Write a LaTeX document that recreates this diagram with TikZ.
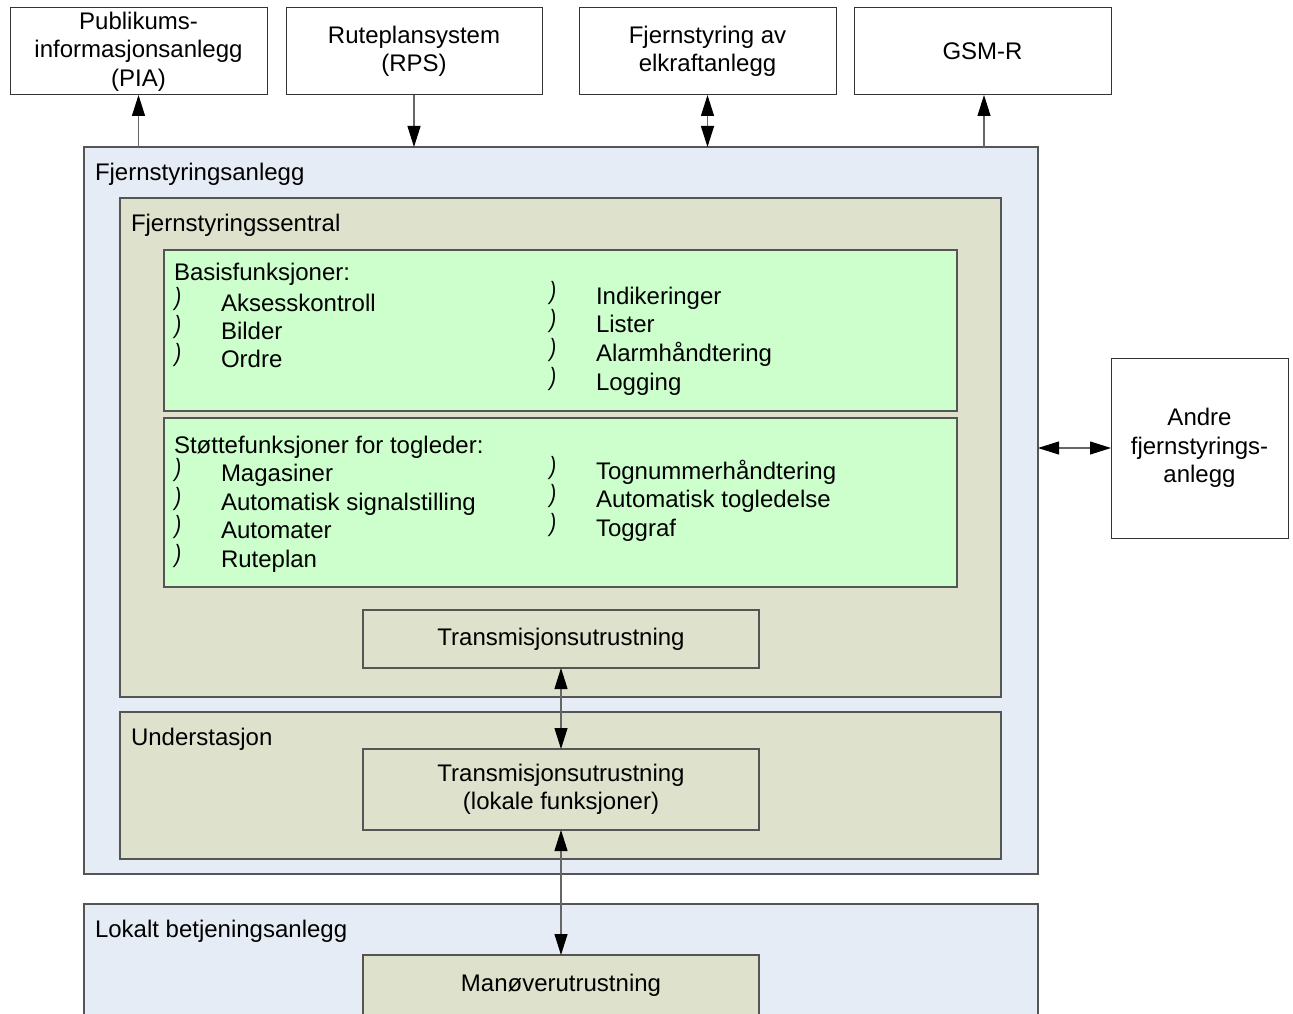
\documentclass[tikz,border=0pt]{standalone}
\usepackage{fontspec}
\setmainfont{Liberation Sans}
\usetikzlibrary{arrows.meta}
\definecolor{outerblue}{RGB}{230,236,246}
\definecolor{olivefill}{RGB}{222,225,204}
\definecolor{lgreen}{RGB}{204,255,204}
\definecolor{edgegrey}{RGB}{85,85,85}
\begin{document}
\begin{tikzpicture}[x=1pt,y=-1pt,
  font=\fontsize{24}{28.5}\selectfont,
  every node/.style={inner sep=0pt, outer sep=0pt},
  topbox/.style={draw=black!80, line width=1pt, fill=white, align=center},
  bluebox/.style={draw=edgegrey, line width=1.2pt, fill=outerblue, anchor=north west},
  olivebox/.style={draw=edgegrey, line width=1.2pt, fill=olivefill},
  greenbox/.style={draw=edgegrey, line width=1.2pt, fill=lgreen, anchor=north west},
  title/.style={anchor=base west},
  item/.style={anchor=base west},
  bul/.style={font=\fontsize{25}{26}\selectfont\itshape\addfontfeatures{FakeStretch=0.8}, anchor=center},
  conn/.style={draw=black!60, line width=1.1pt},
  onearrow/.style={-{Triangle[length=21pt,width=13pt,color=black]}},
  twoarrow/.style={{Triangle[length=21pt,width=13pt,color=black]}-{Triangle[length=21pt,width=13pt,color=black]}}
]
\useasboundingbox (0,0) rectangle (1293,1014);
\clip (0,0) rectangle (1293,1014);

% top boxes
\node[topbox, minimum width=257pt, minimum height=87pt] (pia) at (138.5,51.5) {Publikums-\\informasjonsanlegg\\(PIA)};
\node[topbox, minimum width=256pt, minimum height=87pt] (rps) at (414,51.5) {Ruteplansystem\\(RPS)};
\node[topbox, minimum width=257pt, minimum height=87pt] (elk) at (707.5,51.5) {Fjernstyring av\\elkraftanlegg};
\node[topbox, minimum width=257pt, minimum height=87pt] (gsm) at (982.5,51.5) {GSM-R};

% outer container
\node[bluebox, minimum width=954pt, minimum height=727pt] (outer) at (84,147) {};
\node[title] (outert) at (95,180) {Fjernstyringsanlegg};

% central
\node[olivebox, anchor=north west, minimum width=881pt, minimum height=499pt] (sentral) at (120,198) {};
\node[title] (sentralt) at (131,231) {Fjernstyringssentral};

% basis functions
\node[greenbox, minimum width=793pt, minimum height=161pt] (basis) at (164,250) {};
\node[item] (basish) at (174,280) {Basisfunksjoner:};
\node[bul] (b1) at (178,299) {)};
\node[bul] (b2) at (178,327) {)};
\node[bul] (b3) at (178,355) {)};
\node[item] (ak) at (221,311) {Aksesskontroll};
\node[item] (bi) at (221,339) {Bilder};
\node[item] (or) at (221,367) {Ordre};
\node[bul] (b4) at (553,293) {)};
\node[bul] (b5) at (553,321) {)};
\node[bul] (b6) at (553,350) {)};
\node[bul] (b7) at (553,379) {)};
\node[item] (in) at (596,304) {Indikeringer};
\node[item] (li) at (596,332) {Lister};
\node[item] (al) at (596,361) {Alarmhåndtering};
\node[item] (lo) at (596,390) {Logging};

% support functions
\node[greenbox, minimum width=793pt, minimum height=169pt] (stotte) at (164,418) {};
\node[item] (stotteh) at (174,453) {Støttefunksjoner for togleder:};
\node[bul] (s1) at (178,470) {)};
\node[bul] (s2) at (178,499) {)};
\node[bul] (s3) at (178,527) {)};
\node[bul] (s4) at (178,556) {)};
\node[item] (ma) at (221,481) {Magasiner};
\node[item] (as) at (221,510) {Automatisk signalstilling};
\node[item] (au) at (221,538) {Automater};
\node[item] (ru) at (221,567) {Ruteplan};
\node[bul] (s5) at (553,468) {)};
\node[bul] (s6) at (553,496) {)};
\node[bul] (s7) at (553,525) {)};
\node[item] (tn) at (596,479) {Tognummerhåndtering};
\node[item] (at) at (596,507) {Automatisk togledelse};
\node[item] (tg) at (596,536) {Toggraf};

% transmission
\node[olivebox, minimum width=396pt, minimum height=58pt] (tr) at (561,639) {Transmisjonsutrustning};

% substation
\node[olivebox, anchor=north west, minimum width=881pt, minimum height=147pt] (under) at (120,712) {};
\node[title] (undert) at (131,745) {Understasjon};
\node[olivebox, minimum width=396pt, minimum height=81pt, align=center] (trl) at (561,789.5) {Transmisjonsutrustning\\(lokale funksjoner)};

% local operation
\node[bluebox, minimum width=954pt, minimum height=150pt] (lokalt) at (84,904) {};
\node[title] (lokaltt) at (95,937) {Lokalt betjeningsanlegg};
\node[olivebox, anchor=north, minimum width=396pt, text height=36pt, text depth=60pt] (man) at (561,955) {Manøverutrustning};

% other remote control
\node[topbox, minimum width=177pt, minimum height=180pt] (andre) at (1199.5,448) {Andre\\fjernstyrings-\\anlegg};

% connectors
\draw[conn,onearrow] (pia.south |- outer.north) -- (pia.south);
\draw[conn,onearrow] (rps.south) -- (rps.south |- outer.north);
\draw[conn,twoarrow] (elk.south) -- (elk.south |- outer.north);
\draw[conn,onearrow] ([xshift=1.5pt]gsm.south |- outer.north) -- ([xshift=1.5pt]gsm.south);
\draw[conn,twoarrow] (outer.east |- andre.west) -- (andre.west);
\draw[conn,twoarrow] (tr.south) -- (trl.north);
\draw[conn,twoarrow] (trl.south) -- (man.north);
\end{tikzpicture}
\end{document}
